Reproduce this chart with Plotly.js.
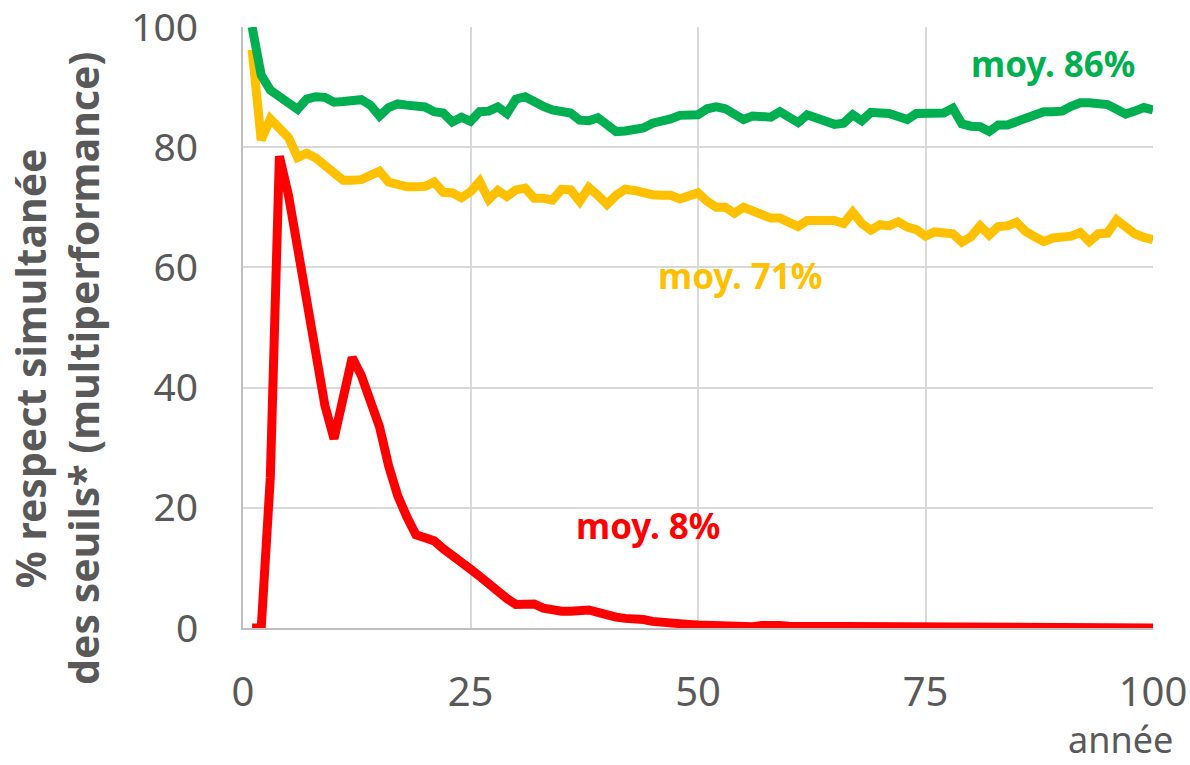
<!DOCTYPE html>
<html>
<head>
<meta charset="utf-8">
<script src="https://cdn.plot.ly/plotly-3.0.1.min.js"></script>
<style>html,body{margin:0;padding:0;background:#fff;}#chart{width:1190px;height:765px;}</style>
</head>
<body>
<div id="chart"></div>
<script>
const years = Array.from({length: 100}, (_, i) => i + 1);

const greenValues = [100,92,89.5,88.3,87.4,86.3,88,88.4,88.3,87.5,
87.6,87.7,87.9,87,85.2,86.6,87.2,87,86.9,86.7,
85.9,85.7,84.2,85,84.3,85.9,86,86.7,85.6,88,
88.4,87.4,86.8,86.2,86,85.7,84.5,84.4,84.9,83.7,
82.6,82.7,83,83.2,84,84.3,84.7,85.3,85.4,85.4,
86.4,86.7,86.4,85.3,84.6,85.2,85.1,85,85.9,85,
84.1,85.4,84.8,84.1,83.8,84,85.4,84.4,85.8,85.7,
85.6,85.1,84.6,85.6,85.7,85.6,85.7,86.5,83.9,83.5,
83.4,82.6,83.7,83.7,84.3,84.8,85.2,85.9,85.9,86,
86.8,87.4,87.4,87.2,87.1,86.3,85.5,86,86.6,86.2];

const yellowValues = [96.2,81.2,84.7,83.3,81.6,78.3,79,78.2,77,75.4,
74.5,74.5,74.6,75.3,76,74.2,73.7,73.4,73.4,73.5,
74.2,72.5,72.4,71.6,72.6,74.3,71.3,72.8,71.8,72.9,
73.2,71.5,71.5,71.2,73,72.9,71,73.3,72,70.5,
72,73,72.8,72.4,72.1,72,72,71.4,72,72.4,
71,70,70,69,70,69.4,68.5,68.2,68.2,67.6,
66.8,67.8,67.8,67.8,67.8,67.3,69.2,67.3,66.2,67.1,
66.9,67.6,66.7,66.3,65.2,65.9,65.7,65.6,64.2,65.1,
66.9,65.4,66.8,66.9,67.5,66,65.1,64.3,64.9,65.1,
65.2,65.8,64.3,65.6,65.7,67.9,66.7,65.6,65,64.6];

const redValues = [0,0,25,78.5,72,63,54,45,37,31.5,
39,45,42,37.5,33.5,27,22,18.5,15.5,15,
14.5,13.2,12.2,11.2,9.8,8.6,7.2,6.2,4.9,3.9,
3.8,4,3.3,2.9,2.8,2.8,2.9,3,2.6,2,
1.8,1.6,1.6,1.4,1.1,0.9,0.7,0.6,0.6,0.5,
0.4,0.3,0.2,0.2,0.2,0.2,0.4,0.5,0.4,0.3,
0.3,0.2,0.2,0.1,0.1,0,0,0,0,0,
0,0,0,0,0,0,0,0,0,0,
0,0,0,0,0,0,0,0,0,0,
0,0,0,0,0,0,0,0,0,0];

const seriesNames = ["vert", "jaune", "rouge"];
const averageLabels = ["moy. 86%", "moy. 71%", "moy. 8%"];
const xTicks = [0, 25, 50, 75, 100];
const yTicks = [0, 20, 40, 60, 80, 100];
const yTitle = "% respect simultanée<br>des seuils* (multiperformance)";
const xTitle = "année";

const colors = ["#00B050", "#FFC000", "#FF0000"];
const FONT = "Noto Sans, Open Sans, sans-serif";
const GRAY = "#595959";

const traces = [greenValues, yellowValues, redValues].map((vals, i) => ({
  x: years, y: vals, type: "scatter", mode: "lines", name: seriesNames[i],
  line: {color: colors[i], width: 9, shape: "linear"},
  hoverinfo: "x+y"
}));
traces.reverse();

const L = 243, T = 27, W = 910, H = 601;
const layout = {
  width: 1190, height: 765,
  margin: {l: L, r: 37, t: T, b: 137},
  paper_bgcolor: "#ffffff", plot_bgcolor: "#ffffff",
  showlegend: false,
  font: {family: FONT, color: GRAY, size: 40},
  xaxis: {
    range: [0, 100], tickvals: xTicks, ticktext: xTicks.map(String),
    showgrid: true, gridcolor: "#d9d9d9", gridwidth: 2,
    showline: true, linecolor: "#bfbfbf", linewidth: 2,
    zeroline: false, ticks: "", ticklabelstandoff: 28,
    ticklabeloverflow: "allow",
    tickfont: {family: FONT, size: 40, color: GRAY}
  },
  yaxis: {
    range: [0, 100], tickvals: yTicks, ticktext: yTicks.map(String),
    showgrid: true, gridcolor: "#d9d9d9", gridwidth: 2,
    showline: true, linecolor: "#bfbfbf", linewidth: 2,
    zeroline: false, ticks: "", ticklabelstandoff: 35,
    ticklabeloverflow: "allow",
    tickfont: {family: FONT, size: 39, color: GRAY}
  },
  annotations: [
    {text: averageLabels[0], x: 89.0, y: 94.0, xref: "x", yref: "y", showarrow: false,
     font: {family: FONT, size: 35, color: colors[0], weight: "bold"}},
    {text: averageLabels[1], x: 54.6, y: 58.7, xref: "x", yref: "y", showarrow: false,
     font: {family: FONT, size: 35, color: colors[1], weight: "bold"}},
    {text: averageLabels[2], x: 44.5, y: 17.1, xref: "x", yref: "y", showarrow: false,
     font: {family: FONT, size: 35, color: colors[2], weight: "bold"}},
    {text: yTitle, textangle: -90, x: (57 - L) / W, y: (628 - 369) / H, xref: "paper", yref: "paper",
     xanchor: "center", yanchor: "middle", showarrow: false, align: "center",
     font: {family: FONT, size: 41, color: GRAY, weight: "bold"}},
    {text: xTitle, x: (1120 - L) / W, y: (628 - 765) / H, xref: "paper", yref: "paper",
     xanchor: "center", yanchor: "bottom", showarrow: false, borderpad: 0,
     font: {family: FONT, size: 36, color: GRAY}}
  ]
};

Plotly.newPlot("chart", traces, layout, {displayModeBar: false, staticPlot: true});
</script>
</body>
</html>
